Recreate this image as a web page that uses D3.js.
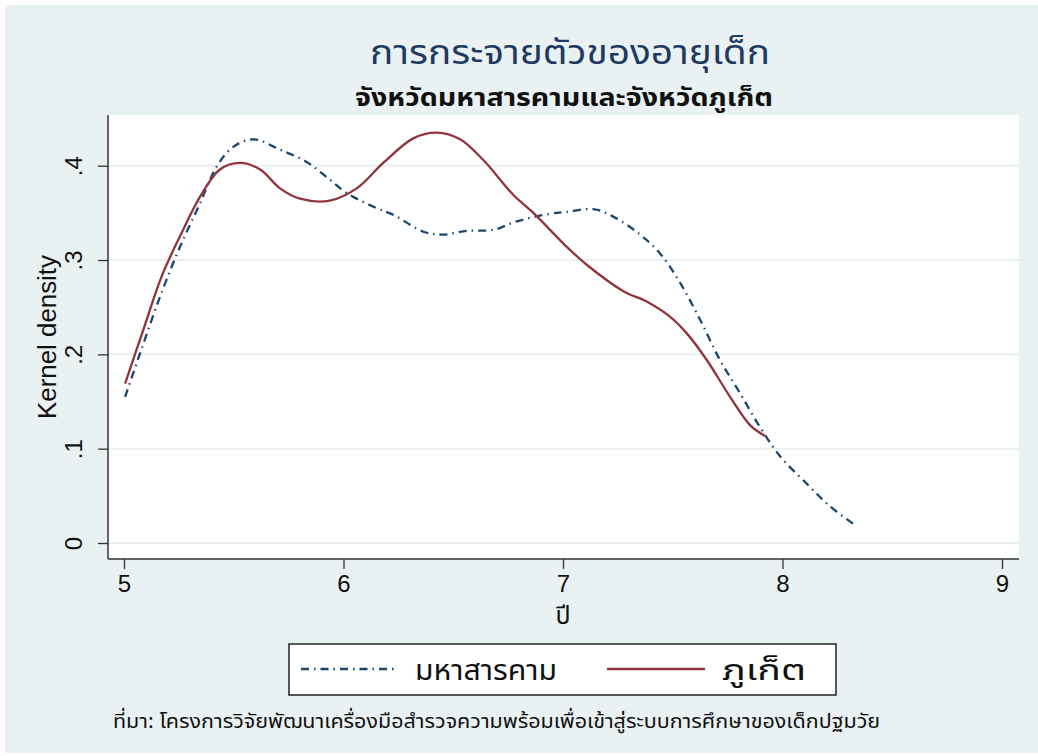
<!DOCTYPE html>
<html><head><meta charset="utf-8">
<script src="https://cdn.jsdelivr.net/npm/d3@7"></script>
<style>
html,body{margin:0;padding:0;background:#fff;}
svg{display:block;}
text{font-family:"Liberation Sans",Arial,Helvetica,sans-serif;}
.th{font-family:"Noto Sans Thai","Noto Sans","Noto Sans CJK SC",sans-serif;}
</style></head>
<body>
<script>
// ---- data ----
const titleText = "การกระจายตัวของอายุเด็ก";
const subtitleText = "จังหวัดมหาสารคามและจังหวัดภูเก็ต";
const xTitle = "ปี";
const yTitle = "Kernel density";
const noteText = "ที่มา: โครงการวิจัยพัฒนาเครื่องมือสำรวจความพร้อมเพื่อเข้าสู่ระบบการศึกษาของเด็กปฐมวัย";
const seriesNames = ["มหาสารคาม", "ภูเก็ต"];
const xTicks = [5, 6, 7, 8, 9];
const yTicks = [0, 0.1, 0.2, 0.3, 0.4];
const yTickLabels = ["0", ".1", ".2", ".3", ".4"];

const mahaX = [5.005,5.073,5.164,5.255,5.346,5.422,5.498,5.589,5.711,5.832,5.923,6.015,6.151,6.227,6.364,6.455,6.561,6.683,6.789,6.941,7.017,7.138,7.229,7.351,7.442,7.533,7.624,7.715,7.806,7.897,7.989,8.110,8.216,8.330];
const mahaY = [0.155,0.201,0.261,0.314,0.360,0.399,0.420,0.428,0.417,0.404,0.388,0.371,0.355,0.348,0.330,0.327,0.331,0.332,0.341,0.349,0.351,0.354,0.346,0.327,0.307,0.276,0.237,0.194,0.159,0.123,0.092,0.063,0.039,0.019];

const phuketX = [5.005,5.088,5.172,5.263,5.346,5.437,5.528,5.620,5.711,5.802,5.938,6.060,6.181,6.318,6.425,6.531,6.637,6.774,6.865,7.017,7.108,7.275,7.381,7.487,7.563,7.655,7.761,7.852,7.920];
const phuketY = [0.169,0.226,0.283,0.329,0.367,0.396,0.403,0.396,0.376,0.365,0.363,0.376,0.403,0.429,0.435,0.428,0.406,0.369,0.350,0.314,0.295,0.267,0.256,0.240,0.2225,0.194,0.155,0.125,0.1135];

// ---- layout ----
const W = 1038, H = 756;
const plot = {left:108, right:1019, top:115, bottom:559};
const bg = "#eaf1f3";
const blue = "#1a476f", red = "#90353b";

const svg = d3.select("body").append("svg").attr("width", W).attr("height", H);
svg.append("rect").attr("x",0).attr("y",0).attr("width",W).attr("height",H).attr("fill","#fff");
svg.append("rect").attr("x",5).attr("y",5).attr("width",W-5).attr("height",H-8).attr("fill",bg);
svg.append("rect").attr("x",plot.left).attr("y",plot.top).attr("width",plot.right-plot.left).attr("height",plot.bottom-plot.top).attr("fill","#fff");

const x = d3.scaleLinear().domain([5,9]).range([124,1002]);
const y = d3.scaleLinear().domain([0,0.4]).range([543,165.7]);

// grid
svg.append("g").selectAll("line").data(yTicks).join("line")
  .attr("x1",plot.left).attr("x2",plot.right)
  .attr("y1",d=>y(d)).attr("y2",d=>y(d))
  .attr("stroke",bg).attr("stroke-width",2);

// axes
const xAxis = d3.axisBottom(x).tickValues(xTicks).tickSize(10).tickPadding(6).tickFormat(d3.format("d"));
const gx = svg.append("g").attr("transform",`translate(0,${plot.bottom})`).call(xAxis);
gx.select(".domain").attr("d",`M${plot.left},0H${plot.right}`).attr("stroke","#333").attr("stroke-width",1.5);
gx.selectAll(".tick line").attr("stroke","#333").attr("stroke-width",1.3);
gx.selectAll(".tick text").attr("font-size",24).attr("fill","#111").attr("font-family","Liberation Sans, Arial, sans-serif");

const yAxis = d3.axisLeft(y).tickValues(yTicks).tickSize(10).tickFormat((d,i)=>yTickLabels[i]);
const gy = svg.append("g").attr("transform",`translate(${plot.left},0)`).call(yAxis);
gy.select(".domain").attr("d",`M0,${plot.top}V${plot.bottom}`).attr("stroke","#333").attr("stroke-width",1.5);
gy.selectAll(".tick line").attr("stroke","#333").attr("stroke-width",1.3);
gy.selectAll(".tick text")
  .attr("font-size",24).attr("fill","#111").attr("font-family","Liberation Sans, Arial, sans-serif")
  .attr("x",null).attr("dy",null)
  .attr("text-anchor","middle")
  .attr("transform","translate(-26,0) rotate(-90)");

// lines
const line = d3.line().x(d=>x(d[0])).y(d=>y(d[1])).curve(d3.curveCatmullRom.alpha(0.5));
const mahaData = mahaX.map((v,i)=>[v,mahaY[i]]);
const phuketData = phuketX.map((v,i)=>[v,phuketY[i]]);
svg.append("path").datum(mahaData).attr("d",line).attr("fill","none")
  .attr("stroke",blue).attr("stroke-width",2.3).attr("stroke-dasharray","8,5,1.5,5");
svg.append("path").datum(phuketData).attr("d",line).attr("fill","none")
  .attr("stroke",red).attr("stroke-width",2.3);

// titles
svg.append("text").attr("class","th").attr("x",570).attr("y",64).attr("text-anchor","middle")
  .attr("font-size",34).attr("fill","#1e3a60")
  .attr("textLength",400).attr("lengthAdjust","spacingAndGlyphs").text(titleText);
svg.append("text").attr("class","th").attr("x",564).attr("y",106).attr("text-anchor","middle")
  .attr("font-size",24).attr("font-weight","bold").attr("fill","#111")
  .attr("textLength",418).attr("lengthAdjust","spacingAndGlyphs").text(subtitleText);

// axis titles
svg.append("text").attr("class","th").attr("x",563).attr("y",624).attr("text-anchor","middle")
  .attr("font-size",25).attr("fill","#111").text(xTitle);
svg.append("text").attr("transform",`translate(56,${(plot.top+plot.bottom)/2}) rotate(-90)`)
  .attr("text-anchor","middle").attr("font-size",25).attr("fill","#111")
  .attr("textLength",164).attr("lengthAdjust","spacingAndGlyphs").text(yTitle);

// legend
const lg = svg.append("g");
lg.append("rect").attr("x",289).attr("y",644).attr("width",547).attr("height",51)
  .attr("fill","#fff").attr("stroke","#222").attr("stroke-width",1.5);
lg.append("line").attr("x1",301).attr("x2",398).attr("y1",669).attr("y2",669)
  .attr("stroke",blue).attr("stroke-width",2.3).attr("stroke-dasharray","8,5,1.5,5");
lg.append("text").attr("class","th").attr("x",415).attr("y",680).attr("font-size",29).attr("fill","#111")
  .attr("textLength",142).attr("lengthAdjust","spacingAndGlyphs").text(seriesNames[0]);
lg.append("line").attr("x1",607).attr("x2",705).attr("y1",669).attr("y2",669)
  .attr("stroke",red).attr("stroke-width",2.3);
lg.append("text").attr("class","th").attr("x",722).attr("y",680).attr("font-size",29).attr("fill","#111")
  .attr("textLength",84).attr("lengthAdjust","spacingAndGlyphs").text(seriesNames[1]);

// note
svg.append("text").attr("class","th").attr("x",113).attr("y",728).attr("font-size",20).attr("fill","#111")
  .attr("textLength",767).attr("lengthAdjust","spacingAndGlyphs").text(noteText);
</script>
</body></html>
